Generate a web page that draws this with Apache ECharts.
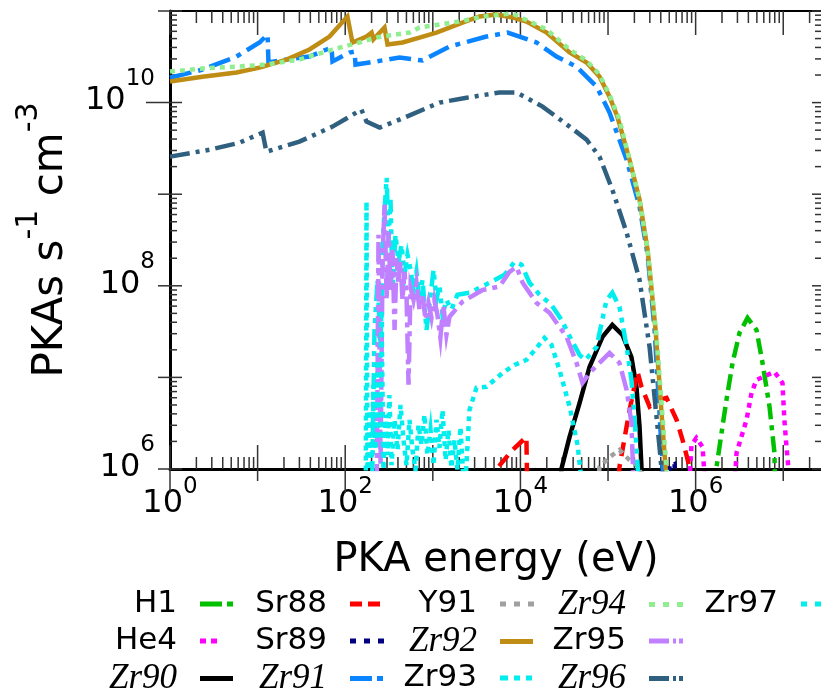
<!DOCTYPE html>
<html>
<head>
<meta charset="utf-8">
<script src="https://cdn.jsdelivr.net/npm/echarts@6/dist/echarts.min.js"></script>
<style>
html, body { margin: 0; padding: 0; background: #fff; }
#chart { width: 821px; height: 693px; }
</style>
</head>
<body>
<div id="chart"></div>
<script>
// axis ranges (eV, PKAs s-1 cm-3)
var xMin = 1, xMax = 2.77e7, yMin = 1e6, yMax = 1e11;
var xDecades = [1, 1e1, 1e2, 1e3, 1e4, 1e5, 1e6, 1e7];
var yDecades = [1e6, 1e7, 1e8, 1e9, 1e10, 1e11];
var minorSteps = [2, 3, 4, 5, 6, 7, 8, 9];

// [energy, rate]
var h1 = [[1.6e6,2.7e5],[1.73e6,1.05e6],[2.25e6,5.7e6],[2.64e6,1.44e7],[3.17e6,3.06e7],[3.91e6,4.47e7],[4.95e6,3.3e7],[5.8e6,1.44e7],[6.97e6,4.8e6],[7.94e6,1.5e6],[8.16e6,2.7e5]];
var he4 = [[8.08e5,2.7e5],[8.97e5,1.83e6],[1.02e6,2.18e6],[1.2e6,1.74e6],[1.37e6,2.7e5],[2.64e6,2.7e5],[2.93e6,1.5e6],[3.81e6,3.44e6],[4.35e6,6.8e6],[4.95e6,9.4e6],[6.28e6,1.04e7],[7.94e6,1.15e7],[9.8e6,8.7e6],[1.03e7,3.44e6],[1.09e7,1.74e6],[1.15e7,9.8e5]];
var zr90 = [[26500,4e5],[29500,1.02e6],[36400,2.24e6],[47300,5.25e6],[61500,1.3e7],[86500,2.77e7],[112000,3.75e7],[146000,2.91e7],[185000,1.67e7],[211000,7.9e6],[229000,2.88e6],[241000,1.02e6],[248000,4.6e5]];
var sr88 = [[4440,2.1e5],[5480,1.03e6],[8120,1.61e6],[11700,2.24e6],[12100,2.7e5],[50000,1e5],[119000,2.7e5],[135000,1.05e6],[176000,4.4e6],[217000,1.15e7],[241000,7.9e6],[298000,4.8e6],[387000,5.7e6],[465000,5.97e6],[606000,3.44e6],[710000,2.07e6],[852000,1.05e6],[897000,2.7e5]];
var sr89 = [[442000,2.7e5],[504000,1.08e6],[574000,1.13e6],[655000,2.7e5]];
var zr91 = [[1,1.87e10],[2.35,2.29e10],[5.74,3.18e10],[10.5,4.53e10],[13.0,5.53e10],[13.3,2.74e10],[21.4,2.95e10],[39.1,3.18e10],[61.2,3.8e10],[69.8,3.99e10],[71.6,2.81e10],[112,3.52e10],[128,3.6e10],[131,2.6e10],[189,2.74e10],[417,3.1e10],[763,2.88e10],[1550,4.09e10],[4100,5.26e10],[7130,5.82e10],[15300,4.53e10],[25800,3.18e10],[43700,2.47e10],[73900,1.5e10],[104000,7.78e9],[163000,2.38e9],[229000,7.3e8],[283000,2.18e8],[340000,3.3e7],[397000,2.67e6],[430000,7.6e5]];
var y91 = [[70100,2.7e5],[80000,1.05e6],[104000,1.35e6],[135000,1.61e6],[176000,1.25e6],[229000,1.05e6],[261000,2.7e5]];
var zr92 = [[1,1.70e10],[2.35,1.92e10],[5.74,2.13e10],[10.5,2.41e10],[21.4,2.95e10],[39.1,3.80e10],[66.2,5.26e10],[106,8.7e10],[121,4.53e10],[175,5.26e10],[200,5.82e10],[210,4.9e10],[281,6.6e10],[304,4.3e10],[451,4.53e10],[705,5.13e10],[1100,5.82e10],[2180,7.48e10],[3410,8.71e10],[5330,9.16e10],[8120,8.5e10],[11700,7.67e10],[19900,5.82e10],[36400,3.52e10],[56900,2.74e10],[80000,1.92e10],[104000,1.16e10],[128000,7.0e9],[176000,2.38e9],[229000,8.7e8],[283000,2.47e8],[349000,3.3e7],[419000,2.88e6],[465000,7.6e5]];
var zr93 = [[200,2.7e5],[216,3.3e7],[234,1.16e8],[253,2.27e7],[273,4.1e8],[297,1.51e9],[313,3.18e8],[329,8.7e8],[347,9.0e7],[375,3.6e8],[406,1.83e8],[440,2.8e8],[475,1.32e8],[514,2.18e8],[557,1.5e8],[602,9.0e7],[651,1.42e8],[705,7.0e7],[763,1.16e8],[847,3.3e7],[916,6.2e7],[1020,1.5e8],[1100,7.0e7],[1190,1.03e8],[1290,4.8e7],[1430,7.0e7],[1630,5.5e7],[1910,8.0e7],[2620,8.4e7],[4440,1.08e8],[6580,1.32e8],[8570,1.83e8],[10300,1.7e8],[12700,1.08e8],[16500,8.0e7],[22600,6.2e7],[29400,4.25e7],[38300,2.57e7],[47300,1.76e7],[55300,1.55e7],[73900,2.15e7],[96200,7.0e7],[112000,8.4e7],[135000,5.9e7],[163000,2.15e7],[185000,9.4e6],[201000,3.44e6],[211000,1.74e6],[223000,7.6e5]];
var zr94 = [[1,2.18e10],[2.35,2.36e10],[5.74,2.47e10],[12.6,2.6e10],[30,2.95e10],[71.5,3.79e10],[145,4.53e10],[228,5.13e10],[542,5.82e10],[705,6.6e10],[2020,7.67e10],[3700,8.7e10],[8120,9.4e10],[19900,6.28e10],[36400,3.79e10],[56900,2.88e10],[80000,2.02e10],[104000,1.22e10],[135000,6.5e9],[176000,2.38e9],[229000,8.7e8],[283000,2.47e8],[357000,2.9e7],[430000,2.67e6],[479000,7.6e5]];
var zr95 = [[228,2.7e5],[240,3.6e8],[253,1.1e6],[267,1.92e8],[281,7.7e8],[297,7.0e7],[313,3.9e8],[329,9.0e7],[347,2.47e8],[366,3.3e7],[385,2.0e8],[406,1.03e8],[428,1.83e8],[451,7.0e7],[475,1.42e8],[501,8.0e7],[528,8.3e6],[557,9.5e7],[602,7.0e7],[651,1.08e8],[705,5.5e7],[763,8.0e7],[826,4.25e7],[893,6.5e7],[966,4.47e7],[1040,7.0e7],[1130,4.8e7],[1220,2.7e7],[1320,6.2e7],[1430,2.9e7],[1550,4.6e7],[2180,6.7e7],[3700,9.0e7],[5770,9.8e7],[7510,1.42e8],[9020,1.61e8],[10600,1.08e8],[15300,6.5e7],[21500,5.07e7],[33600,2.77e7],[43700,1.44e7],[51100,8.7e6],[61500,1.12e7],[80000,1.44e7],[104000,1.85e7],[135000,1.44e7],[163000,7.3e6],[185000,3.18e6],[195000,7.6e5]];
var zr96 = [[1,2.57e9],[2.82,3.06e9],[6.22,3.65e9],[11.4,4.7e9],[12,4.94e9],[12.6,2.91e9],[30,3.75e9],[71.6,5.47e9],[153,8.38e9],[175,6.2e9],[247,5.33e9],[417,6.52e9],[1190,1.0e10],[2430,1.13e10],[5770,1.29e10],[9020,1.29e10],[17900,9.04e9],[36400,5.47e9],[56900,3.94e9],[80000,2.57e9],[112000,1.12e9],[163000,3.8e8],[229000,1.16e8],[298000,2.15e7],[387000,1.74e6],[419000,7.6e5]];
var zr97 = [[171,1e5],[175,8.3e8],[180,4.6e5],[189,4.4e6],[200,9.8e5],[210,8.3e6],[222,1.61e6],[234,1.55e7],[246,2.07e6],[260,5.5e7],[273,9.8e5],[289,3.9e6],[304,1.42e6],[320,6.4e6],[338,1.1e6],[366,3.44e6],[395,1.61e6],[428,5.0e6],[463,2.07e6],[501,1.1e6],[542,3.44e6],[586,1.61e6],[635,9.8e5],[687,3.03e6],[743,1.83e6],[803,3.9e6],[869,1.42e6],[941,2.67e6],[1020,1.1e6],[1100,3.44e6],[1190,1.7e6],[1290,4.4e6],[1400,1.25e6],[1510,2.67e6],[1630,1.03e6],[1770,2.07e6],[1910,9.8e5],[2070,2.88e6],[2300,4.6e5],[2620,4.4e6],[3150,7.7e6],[4100,7.9e6],[6250,1.12e7],[8570,1.37e7],[11700,1.55e7],[15300,2.1e7],[18800,2.7e7],[22600,2.27e7],[27900,1.21e7],[36400,4.8e6],[44900,1.83e6],[49800,7.6e5]];

var names = ['H1', 'He4', 'Zr90', 'Sr88', 'Sr89', 'Zr91', 'Y91', 'Zr92', 'Zr93', 'Zr94', 'Zr95', 'Zr96', 'Zr97'];
var datasets = [h1, he4, zr90, sr88, sr89, zr91, y91, zr92, zr93, zr94, zr95, zr96, zr97];

// styles
var colors = ['#00c000', '#ff00ff', '#000000', '#ff0000', '#000080', '#0a85ff', '#a0a0a0', '#bf8c14', '#00eeee', '#90ee90', '#c080ff', '#306080', '#00eeee'];
var dot = [5, 5];
var dashes = [[16, 6, 5, 6], dot, 'solid', [14, 8], dot, [22, 7, 5, 7], dot, 'solid', [16, 6, 5, 6, 5, 6], dot, [20, 6, 5, 6], [20, 6, 4, 6, 4, 6], dot];
var italicNames = ['Zr90', 'Zr91', 'Zr92', 'Zr94', 'Zr96'];
var dotIcon = 'path://M0,0H6V5H0ZM14,0H20V5H14ZM28,0H34V5H28Z';
var dashDotIcon = 'path://M0,0H22V5H0ZM27,0H33V5H27Z';
var longDotsIcon = 'path://M0,0H20V5H0ZM24,0H27V5H24ZM30,0H34V5H30Z';
var legendIcons = [dashDotIcon, 'path://M0,0H6V5H0ZM11,0H17V5H11Z', 'path://M0,0H33V5H0Z',
    'path://M0,0H12V5H0ZM18,0H30V5H18Z', dotIcon, dashDotIcon,
    dotIcon, 'path://M0,0H33V5H0Z', 'path://M0,0H8V5H0ZM14,0H20V5H14ZM26,0H32V5H26Z',
    dotIcon, longDotsIcon, longDotsIcon, dotIcon];
var legendIconW = [33, 17, 33, 30, 34, 33, 34, 33, 32, 34, 34, 34, 34];
var legendCols = [200, 350, 500, 649, 801];
var legendRows = [604, 641, 678];

var fontSans = 'DejaVu Sans';

function powLabel(v) {
    var lg = Math.log10(v);
    var e = Math.round(lg);
    if (Math.abs(lg - e) > 1e-6 || e % 2 !== 0) return '';
    return '{b|10}{s|' + e + '}';
}
function powRich(lineH) {
    return {
        b: { fontSize: 32, fontFamily: fontSans, color: '#000', lineHeight: lineH, verticalAlign: 'bottom' },
        s: { fontSize: 23, fontFamily: fontSans, color: '#000', verticalAlign: 'top' }
    };
}

var series = names.map(function (n, i) {
    return {
        name: n,
        type: 'line',
        data: datasets[i],
        symbol: 'none',
        showSymbol: false,
        clip: true,
        animation: false,
        z: 2,
        itemStyle: { color: colors[i] },
        lineStyle: { color: colors[i], width: 4.5, type: dashes[i], cap: 'butt', join: 'miter' }
    };
});

// ticks of the frame
series.push({
    type: 'custom',
    coordinateSystem: 'cartesian2d',
    silent: true,
    clip: false,
    z: 1,
    animation: false,
    data: [[xMin, yMin]],
    renderItem: function (params, api) {
        var kids = [];
        var b = api.coord([xMin, yMin])[1], t = api.coord([xMin, yMax])[1];
        var l = api.coord([xMin, yMin])[0], r = api.coord([xMax, yMin])[0];
        function seg(x1, y1, x2, y2) {
            kids.push({ type: 'line', shape: { x1: x1, y1: y1, x2: x2, y2: y2 }, style: { stroke: '#333', lineWidth: 1.5 } });
        }
        xDecades.forEach(function (v, i) {
            var x = api.coord([v, yMin])[0];
            seg(x, b - 24, x, b + (i % 2 === 0 ? 24 : 12));
            seg(x, t, x, t + 24);
            minorSteps.forEach(function (m) {
                if (v * m > xMax) return;
                var xm = api.coord([v * m, yMin])[0];
                seg(xm, b - 12, xm, b);
                seg(xm, t, xm, t + 12);
            });
        });
        yDecades.forEach(function (v) {
            var y = api.coord([xMin, v])[1];
            seg(l - (v === 1e10 ? 24 : 12), y, l + 12, y);
            seg(r - 10, y, r, y);
            if (v >= yMax) return;
            minorSteps.forEach(function (m) {
                var ym = api.coord([xMin, v * m])[1];
                seg(l, ym, l + 7, ym);
                seg(r - 7, ym, r, ym);
            });
        });
        return { type: 'group', children: kids };
    }
});

var legends = names.map(function (n, i) {
    var col = Math.floor(i / 3), row = i % 3;
    var italic = italicNames.indexOf(n) >= 0;
    return {
        data: [n],
        right: 821 - (legendCols[col] + legendIconW[i]),
        top: legendRows[row] - 17,
        orient: 'horizontal',
        align: 'right',
        padding: 0,
        icon: legendIcons[i],
        itemWidth: legendIconW[i],
        itemHeight: 5,
        selectedMode: false,
        textStyle: {
            fontSize: italic ? 35 : 31,
            fontFamily: italic ? 'Liberation Serif' : fontSans,
            fontStyle: italic ? 'italic' : 'normal',
            color: '#000',
            lineHeight: 34,
            padding: [0, 18, 0, 0]
        }
    };
});

var axisBase = { type: 'log', logBase: 10, splitLine: { show: false }, axisTick: { show: false } };

var option = {
    backgroundColor: '#fff',
    animation: false,
    grid: { left: 170, top: 11, width: 652, height: 458, containLabel: false, outerBoundsMode: 'none' },
    legend: legends,
    xAxis: [
        Object.assign({}, axisBase, {
            min: xMin, max: xMax, position: 'bottom',
            axisLine: { lineStyle: { color: '#000', width: 3 } },
            axisLabel: { formatter: powLabel, rich: powRich(44), margin: 7, showMaxLabel: false },
            name: 'PKA energy (eV)', nameLocation: 'middle', nameGap: 72,
            nameTextStyle: { fontSize: 40, fontFamily: fontSans, color: '#000' }
        }),
        Object.assign({}, axisBase, {
            min: xMin, max: xMax, position: 'top',
            axisLine: { lineStyle: { color: '#000', width: 2 } },
            axisLabel: { show: false }
        })
    ],
    yAxis: [
        Object.assign({}, axisBase, {
            min: yMin, max: yMax, position: 'left',
            axisLine: { lineStyle: { color: '#000', width: 3 } },
            axisLabel: { formatter: powLabel, rich: powRich(50), margin: 15, padding: [0, 0, 21, 0] },
            name: '{b|PKAs s}{s|-1}{b| cm}{s|-3}', nameLocation: 'middle', nameGap: 98, nameRotate: 90,
            nameTextStyle: {
                rich: {
                    b: { fontSize: 42, fontFamily: fontSans, color: '#000', lineHeight: 58, verticalAlign: 'bottom' },
                    s: { fontSize: 30, fontFamily: fontSans, color: '#000', verticalAlign: 'top' }
                }
            }
        }),
        Object.assign({}, axisBase, {
            min: yMin, max: yMax, position: 'right',
            axisLine: { lineStyle: { color: '#000', width: 2 } },
            axisLabel: { show: false }
        })
    ],
    series: series
};

var myChart = echarts.init(document.getElementById('chart'));
myChart.setOption(option);
</script>
</body>
</html>
